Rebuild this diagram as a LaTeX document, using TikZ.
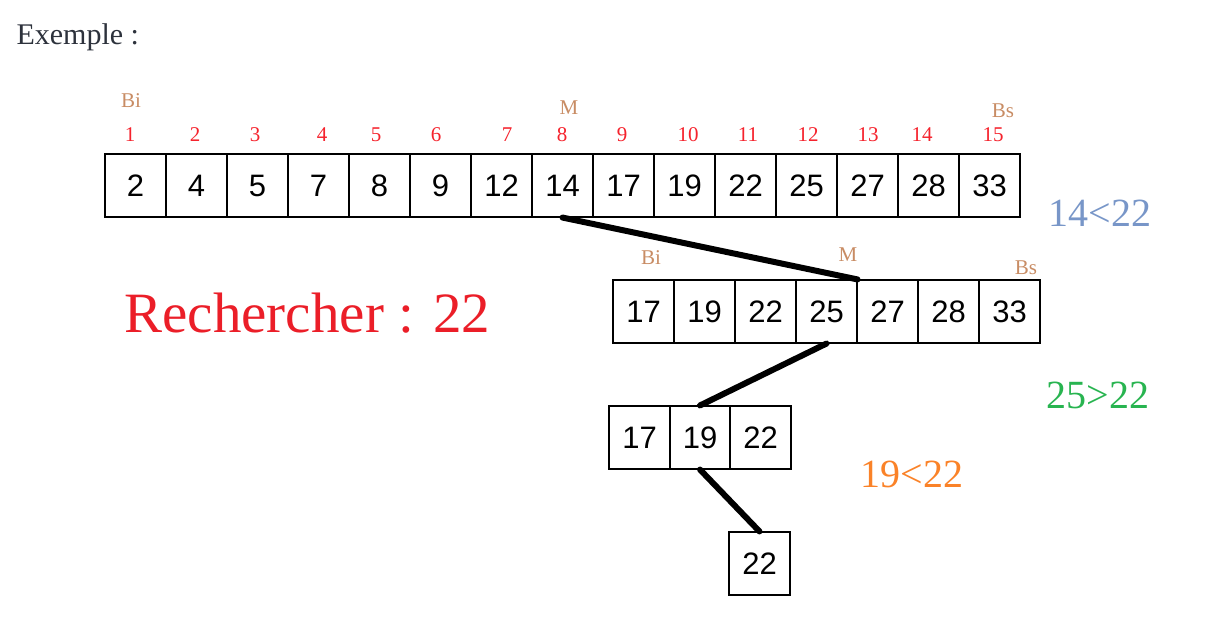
\documentclass[tikz,border=0pt]{standalone}
\usepackage{fontspec}
\setmainfont{Liberation Serif}
\newfontfamily\cellfont{Liberation Sans}
\definecolor{titlegray}{RGB}{45,50,60}
\definecolor{idxred}{RGB}{245,35,45}
\definecolor{boundtan}{RGB}{200,140,100}
\definecolor{searchred}{RGB}{235,30,40}
\definecolor{cmpblue}{RGB}{120,150,200}
\definecolor{cmpgreen}{RGB}{40,180,80}
\definecolor{cmporange}{RGB}{250,130,40}
\begin{document}
\begin{tikzpicture}[
	x=1pt, y=-1pt,
	cell/.style={shape=rectangle, draw=black, line width=1.1pt, minimum width=61pt, minimum height=63pt, inner sep=0pt, font=\cellfont\fontsize{31}{31}\selectfont},
	idx/.style={anchor=base, text=idxred, font=\fontsize{21}{21}\selectfont},
	bound/.style={anchor=base, text=boundtan, font=\fontsize{21}{21}\selectfont},
	link/.style={line width=6pt, line cap=round},
	cmp/.style={anchor=base west, font=\fontsize{40}{40}\selectfont},
]
\useasboundingbox (0,0) rectangle (1210,628);
\node[anchor=base west, text=titlegray, font=\fontsize{30}{30}\selectfont] (title) at (13,45) {Exemple :};

% tableau complet
\foreach \v [count=\i] in {2,4,5,7,8,9,12,14,17,19,22,25,27,28,33}
	\node[cell] (a\i) at (74.5+61*\i,185.5) {\v};
\foreach \x [count=\i] in {130,195,255,322,376,436,507,562,622,688,748,808,868,922,993}
	\node[idx] (n\i) at (\x,142) {\i};
\node[bound] (bi1) at (131,108) {Bi};
\node[bound] (m1) at (569,115) {M};
\node[bound] (bs1) at (1003,118) {Bs};

% deuxieme moitie
\foreach \v [count=\i] in {17,19,22,25,27,28,33}
	\node[cell] (b\i) at (582.5+61*\i,311.5) {\v};
\node[bound] (bi2) at (651,265) {Bi};
\node[bound] (m2) at (848,262) {M};
\node[bound] (bs2) at (1026,275) {Bs};

\foreach \v [count=\i] in {17,19,22}
	\node[cell] (c\i) at (579+60.5*\i,437.5) {\v};
\node[cell] (d1) at (759.5,563.5) {22};

\draw[link] (a8.south) -- (b4.north east);
\draw[link] (b4.south) -- (c2.north);
\draw[link] (c2.south) -- (d1.north);

\node[anchor=base west, text=searchred, font=\fontsize{57}{57}\selectfont] (search) at (121,332) {Rechercher : 22};
\node[cmp, text=cmpblue] (cmp1) at (1045,227) {14<22};
\node[cmp, text=cmpgreen] (cmp2) at (1043,408) {25>22};
\node[cmp, text=cmporange] (cmp3) at (857,487) {19<22};
\end{tikzpicture}
\end{document}
